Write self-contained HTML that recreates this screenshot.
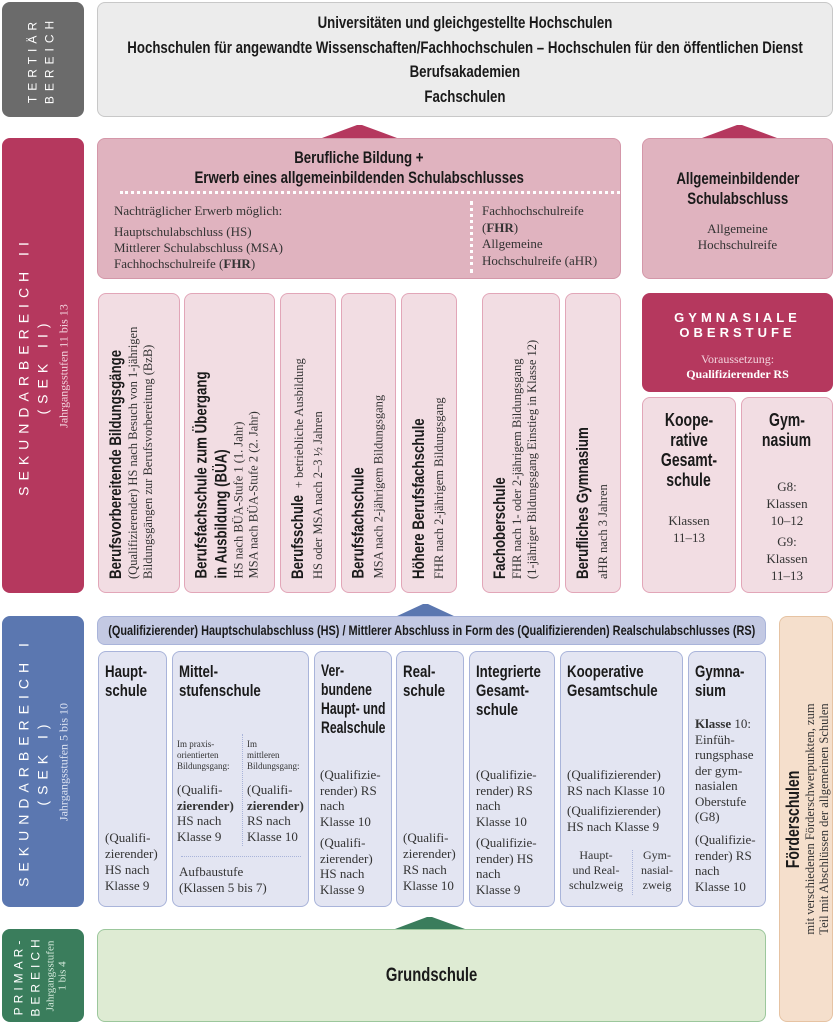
<!DOCTYPE html>
<html><head><meta charset="utf-8"><style>
*{margin:0;padding:0;box-sizing:border-box}
body{width:835px;height:1024px;background:#fff;position:relative;overflow:hidden;font-family:"Liberation Serif",serif;color:#333}
.a{position:absolute}
.b{position:absolute;border-radius:8px}
.h{font-family:"Liberation Sans",sans-serif;font-weight:bold;color:#1a1a1a}
.n{display:inline-block;white-space:nowrap;transform:scaleX(.78);transform-origin:0 0}
.nc{display:inline-block;white-space:nowrap;transform:scaleX(.78);transform-origin:50% 0;margin:0 -300px}
.r{position:absolute;transform:rotate(-90deg);white-space:nowrap}
.sp{font-family:"Liberation Sans",sans-serif;color:#fff;text-align:center}
.pc{background:#f2dde3;border:1.5px solid #e2a6b8}
.pc .r{padding:8px 0 0 14px;font-size:12.5px;line-height:15px}
.pc .h{font-size:17px;line-height:20px}
.bc{background:#e3e5f2;border:1.5px solid #a9b4da;font-size:13px;line-height:16px;padding:6px 6px}
.bc>.h{font-size:17px;line-height:19px}
</style></head><body>
<!-- Tertiär -->
<div class="b" style="left:2px;top:2px;width:82px;height:115px;background:#6b6b6b">
<div class="r sp" style="left:-16.5px;top:16.5px;width:115px;height:82px;padding-top:22px;font-size:12px;letter-spacing:5px;line-height:17px">TERTIÄR<br>BEREICH</div></div>
<div class="b h" style="left:97px;top:2px;width:736px;height:115px;background:#ececec;border:1.5px solid #c8c8c8;text-align:center;font-size:17px;line-height:24.5px;padding-top:8px"><span class="nc">Universitäten und gleichgestellte Hochschulen</span><br><span class="nc">Hochschulen für angewandte Wissenschaften/Fachhochschulen – Hochschulen für den öffentlichen Dienst</span><br><span class="nc">Berufsakademien</span><br><span class="nc">Fachschulen</span></div>
<svg class="a" style="left:0;top:0" width="835" height="1024">
<polygon points="322,138 357,125 362,125 397,138" fill="#b5385e"/>
<polygon points="702,138 737,125 742,125 777,138" fill="#b5385e"/>
<polygon points="395,617 423,604 428,604 456,617" fill="#5b77b0"/>
<polygon points="395,929 427,917 432,917 465,929" fill="#3a7d5c"/>
</svg>
<!-- Sek II -->
<div class="b" style="left:2px;top:138px;width:82px;height:455px;background:#b5385e">
<div class="r sp" style="left:-186.5px;top:186.5px;width:455px;height:82px;padding-top:12px"><div style="font-size:14px;letter-spacing:6px;line-height:19px">SEKUNDARBEREICH II<br>(SEK II)</div><div style="font-family:'Liberation Serif',serif;font-size:12px;color:#f3d4de;margin-top:4px">Jahrgangsstufen 11 bis 13</div></div></div>
<div class="b" style="left:97px;top:138px;width:524px;height:141px;background:#e0b3bf;border:1.5px solid #d497a9">
<div class="h" style="text-align:center;font-size:17px;line-height:20px;padding-top:9px"><span class="nc">Berufliche Bildung +</span><br><span class="nc">Erwerb eines allgemeinbildenden Schulabschlusses</span></div>
<div class="a" style="left:22px;top:52px;width:500px;border-top:3px dotted #fff"></div>
<div class="a" style="left:372px;top:62px;height:72px;border-left:3px dotted #fff"></div>
<div class="a" style="left:16px;top:64px;font-size:13px;line-height:16px">Nachträglicher Erwerb möglich:<div style="height:5px"></div>Hauptschulabschluss (HS)<br>Mittlerer Schulabschluss (MSA)<br>Fachhochschulreife (<b>FHR</b>)</div>
<div class="a" style="left:384px;top:64px;font-size:13px;line-height:16.5px">Fachhochschulreife<br>(<b>FHR</b>)<br>Allgemeine<br>Hochschulreife (aHR)</div>
</div>
<div class="b" style="left:642px;top:138px;width:191px;height:141px;background:#e0b3bf;border:1.5px solid #d497a9;text-align:center">
<div class="h" style="font-size:17px;line-height:20px;padding-top:30px"><span class="nc">Allgemeinbildender</span><br><span class="nc">Schulabschluss</span></div>
<div style="font-size:13px;line-height:16px;margin-top:12px">Allgemeine<br>Hochschulreife</div></div>

<div class="b pc" style="left:98px;top:293px;width:82px;height:300px"><div class="r" style="left:-110px;top:108px;width:300px;height:82px"><span class="h n">Berufsvorbereitende Bildungsgänge</span><br>(Qualifizierender) HS nach Besuch von 1-jährigen<br>Bildungsgängen zur Berufsvorbereitung (BzB)</div></div>
<div class="b pc" style="left:184px;top:293px;width:91px;height:300px"><div class="r" style="left:-106px;top:103px;width:300px;height:91px"><span class="h n">Berufsfachschule zum Übergang</span><br><span class="h n">in Ausbildung (BÜA)</span><br>HS nach BÜA-Stufe 1 (1. Jahr)<br>MSA nach BÜA-Stufe 2 (2. Jahr)</div></div>
<div class="b pc" style="left:280px;top:293px;width:56px;height:300px"><div class="r" style="left:-123px;top:121px;width:300px;height:56px"><span class="h n" style="margin-right:-20px">Berufsschule</span> + betriebliche Ausbildung<br><span style="line-height:20px">HS oder MSA nach 2–3 ½ Jahren</span></div></div>
<div class="b pc" style="left:341px;top:293px;width:55px;height:300px"><div class="r" style="left:-124px;top:121px;width:300px;height:55px"><span class="h n">Berufsfachschule</span><br><span style="line-height:20px">MSA nach 2-jährigem Bildungsgang</span></div></div>
<div class="b pc" style="left:401px;top:293px;width:56px;height:300px"><div class="r" style="left:-123px;top:121px;width:300px;height:56px"><span class="h n">Höhere Berufsfachschule</span><br><span style="line-height:20px">FHR nach 2-jährigem Bildungsgang</span></div></div>
<div class="b pc" style="left:482px;top:293px;width:78px;height:300px"><div class="r" style="left:-112px;top:110px;width:300px;height:78px"><span class="h n">Fachoberschule</span><br>FHR nach 1- oder 2-jährigem Bildungsgang<br>(1-jähriger Bildungsgang Einstieg in Klasse 12)</div></div>
<div class="b pc" style="left:565px;top:293px;width:56px;height:300px"><div class="r" style="left:-123px;top:121px;width:300px;height:56px"><span class="h n">Berufliches Gymnasium</span><br><span style="line-height:20px">aHR nach 3 Jahren</span></div></div>

<div class="b" style="left:642px;top:293px;width:191px;height:99px;background:#b5385e;color:#fff;text-align:center">
<div class="h" style="color:#fff;font-size:13px;letter-spacing:4px;line-height:15px;padding-top:17px">GYMNASIALE<br>OBERSTUFE</div>
<div style="font-size:12px;line-height:15px;margin-top:12px;color:#f3d4de">Voraussetzung:<br><b style="color:#fff">Qualifizierender RS</b></div></div>
<div class="b" style="left:642px;top:397px;width:94px;height:196px;background:#f2dde3;border:1.5px solid #e2a6b8;text-align:center">
<div class="h" style="font-size:18px;line-height:20px;padding-top:12px"><span class="nc">Koope-</span><br><span class="nc">rative</span><br><span class="nc">Gesamt-</span><br><span class="nc">schule</span></div>
<div style="font-size:13px;line-height:17px;margin-top:22px">Klassen<br>11–13</div></div>
<div class="b" style="left:741px;top:397px;width:92px;height:196px;background:#f2dde3;border:1.5px solid #e2a6b8;text-align:center">
<div class="h" style="font-size:18px;line-height:20px;padding-top:12px"><span class="nc">Gym-</span><br><span class="nc">nasium</span></div>
<div style="font-size:13px;line-height:17px;margin-top:28px">G8:<br>Klassen<br>10–12</div>
<div style="font-size:13px;line-height:17px;margin-top:4px">G9:<br>Klassen<br>11–13</div></div>
<!-- Sek I -->
<div class="b" style="left:2px;top:616px;width:82px;height:291px;background:#5b77b0">
<div class="r sp" style="left:-104.5px;top:104.5px;width:291px;height:82px;padding-top:12px"><div style="font-size:14px;letter-spacing:6px;line-height:19px">SEKUNDARBEREICH I<br>(SEK I)</div><div style="font-family:'Liberation Serif',serif;font-size:12px;color:#dde3f2;margin-top:4px">Jahrgangsstufen 5 bis 10</div></div></div>
<div class="b h" style="left:97px;top:616px;width:669px;height:29px;background:#c3c9e3;border:1.5px solid #a9b4da;text-align:center;font-size:14px;line-height:27px"><span class="nc">(Qualifizierender) Hauptschulabschluss (HS) / Mittlerer Abschluss in Form des (Qualifizierenden) Realschulabschlusses (RS)</span></div>
<div class="b bc" style="left:98px;top:651px;width:69px;height:256px"><div class="h" style="padding-top:4px"><span class="n">Haupt-</span><br><span class="n">schule</span></div><div class="a" style="left:6px;bottom:12px">(Qualifi-<br>zierender)<br>HS nach<br>Klasse 9</div></div>
<div class="b bc" style="left:172px;top:651px;width:137px;height:256px"><div class="h" style="padding-top:4px"><span class="n">Mittel-</span><br><span class="n">stufenschule</span></div>
<div class="a" style="left:4px;top:87px;font-size:9px;line-height:11px">Im praxis-<br>orientierten<br>Bildungsgang:</div>
<div class="a" style="left:74px;top:87px;font-size:9px;line-height:11px">Im<br>mittleren<br>Bildungsgang:</div>
<div class="a" style="left:69px;top:82px;height:112px;border-left:1.5px dotted #a9b4da"></div>
<div class="a" style="left:4px;top:130px;line-height:15.5px">(Qualifi-<br><b>zierender)</b><br>HS nach<br>Klasse 9</div>
<div class="a" style="left:74px;top:130px;line-height:15.5px">(Qualifi-<br><b>zierender)</b><br>RS nach<br>Klasse 10</div>
<div class="a" style="left:8px;top:204px;width:120px;border-top:1.5px dotted #a9b4da"></div>
<div class="a" style="left:6px;top:212px">Aufbaustufe<br>(Klassen 5 bis 7)</div></div>
<div class="b bc" style="left:314px;top:651px;width:78px;height:256px"><div class="h" style="padding-top:4px;font-size:16.5px"><span class="n" style="transform:scaleX(.74)">Ver-</span><br><span class="n" style="transform:scaleX(.74)">bundene</span><br><span class="n" style="transform:scaleX(.74)">Haupt- und</span><br><span class="n" style="transform:scaleX(.74)">Realschule</span></div><div class="a" style="left:5px;top:115px;line-height:15.5px">(Qualifizie-<br>render) RS<br>nach<br>Klasse 10</div><div class="a" style="left:5px;top:183px;line-height:15.5px">(Qualifi-<br>zierender)<br>HS nach<br>Klasse 9</div></div>
<div class="b bc" style="left:396px;top:651px;width:68px;height:256px"><div class="h" style="padding-top:4px"><span class="n">Real-</span><br><span class="n">schule</span></div><div class="a" style="left:6px;bottom:12px">(Qualifi-<br>zierender)<br>RS nach<br>Klasse 10</div></div>
<div class="b bc" style="left:469px;top:651px;width:86px;height:256px"><div class="h" style="padding-top:4px"><span class="n">Integrierte</span><br><span class="n">Gesamt-</span><br><span class="n">schule</span></div><div class="a" style="left:6px;top:115px;line-height:15.5px">(Qualifizie-<br>render) RS<br>nach<br>Klasse 10</div><div class="a" style="left:6px;top:183px;line-height:15.5px">(Qualifizie-<br>render) HS<br>nach<br>Klasse 9</div></div>
<div class="b bc" style="left:560px;top:651px;width:123px;height:256px"><div class="h" style="padding-top:4px"><span class="n">Kooperative</span><br><span class="n">Gesamtschule</span></div><div class="a" style="left:6px;top:115px">(Qualifizierender)<br>RS nach Klasse 10</div><div class="a" style="left:6px;top:151px">(Qualifizierender)<br>HS nach Klasse 9</div>
<div class="a" style="left:4px;top:196px;width:62px;text-align:center;font-size:12px;line-height:15px">Haupt-<br>und Real-<br>schulzweig</div><div class="a" style="left:71px;top:198px;height:45px;border-left:1.5px dotted #a9b4da"></div><div class="a" style="left:74px;top:196px;width:44px;text-align:center;font-size:12px;line-height:15px">Gym-<br>nasial-<br>zweig</div></div>
<div class="b bc" style="left:688px;top:651px;width:78px;height:256px"><div class="h" style="padding-top:4px"><span class="n">Gymna-</span><br><span class="n">sium</span></div><div class="a" style="left:6px;top:64px;line-height:15.5px"><b>Klasse</b> 10:<br>Einfüh-<br>rungsphase<br>der gym-<br>nasialen<br>Oberstufe<br>(G8)</div><div class="a" style="left:6px;top:180px;line-height:15.5px">(Qualifizie-<br>render) RS<br>nach<br>Klasse 10</div></div>
<!-- Förderschulen -->
<div class="b" style="left:779px;top:616px;width:54px;height:406px;background:#f5dfcc;border:1.5px solid #e6c3a3">
<div class="r" style="left:-177px;top:175px;width:406px;height:54px;text-align:center;font-size:12.5px;line-height:14px;padding-top:4px"><span class="h nc" style="font-size:18px;line-height:20px">Förderschulen</span><br>mit verschiedenen Förderschwerpunkten, zum<br>Teil mit Abschlüssen der allgemeinen Schulen</div></div>
<!-- Primar -->
<div class="b" style="left:2px;top:929px;width:82px;height:93px;background:#3a7d5c">
<div class="r sp" style="left:-5.5px;top:5.5px;width:93px;height:82px;padding-top:8px"><div style="font-size:12px;letter-spacing:4px;line-height:17px">PRIMAR-<br>BEREICH</div><div style="font-family:'Liberation Serif',serif;font-size:11px;line-height:12px;color:#d6eadd">Jahrgangsstufen<br>1 bis 4</div></div></div>
<div class="b h" style="left:97px;top:929px;width:669px;height:93px;background:#deebd3;border:1.5px solid #9cc79c;text-align:center;font-size:19px;line-height:91px"><span class="nc" style="transform-origin:50% 50%">Grundschule</span></div>
</body></html>
